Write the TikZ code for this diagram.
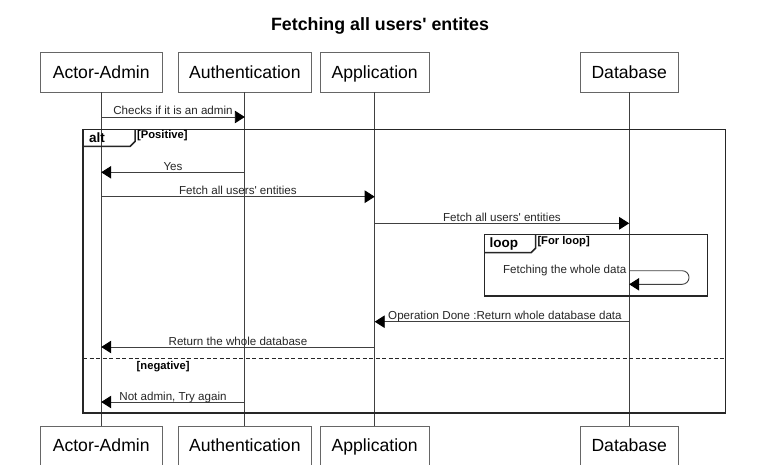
\documentclass[tikz,border=0pt]{standalone}
\usepackage{fontspec}
\setmainfont{Liberation Sans}
\usetikzlibrary{arrows.meta}

\newcommand{\apos}{\textquotesingle}

\tikzset{
  part/.style={draw=black!60, fill=white, font=\fontsize{17.6}{19}\selectfont, inner sep=0pt, text height=12.8pt, text depth=0pt},
  lifeline/.style={draw=black!75, line width=0.9pt},
  msg/.style={draw=black!75, line width=0.9pt, -{Triangle[length=10pt,width=12.5pt,color=black]}},
  msgtext/.style={midway, anchor=base, yshift=2pt, inner sep=0pt, font=\fontsize{11.6}{13}\selectfont, text=black!85},
  frame/.style={draw=black!85, line width=1.5pt},
  frametag/.style={anchor=west, inner sep=0pt, font=\bfseries\fontsize{13.5}{15}\selectfont},
  guard/.style={anchor=west, inner sep=0pt, font=\bfseries\fontsize{11.2}{12}\selectfont}
}

\begin{document}
\begin{tikzpicture}[x=1pt,y=-1pt]
\useasboundingbox (0,0) rectangle (759,465);

% title
\node[font=\bfseries\fontsize{17.8}{19}\selectfont] (title) at (380,26) {Fetching all users\apos{} entites};

% participants
\node[part, minimum width=121.5pt, minimum height=39.3pt] (adm) at (101.2,72.3) {Actor-Admin};
\node[part, minimum width=133.7pt, minimum height=39.3pt] (auth) at (244.8,72.3) {Authentication};
\node[part, minimum width=109.3pt, minimum height=39.3pt] (app) at (374.7,72.3) {Application};
\node[part, minimum width=97.7pt, minimum height=39.3pt] (db) at (629.2,72.3) {Database};

\node[part, minimum width=121.5pt, minimum height=39pt] (admB) at (101.2,445.5) {Actor-Admin};
\node[part, minimum width=133.7pt, minimum height=39pt] (authB) at (244.8,445.5) {Authentication};
\node[part, minimum width=109.3pt, minimum height=39pt] (appB) at (374.7,445.5) {Application};
\node[part, minimum width=97.7pt, minimum height=39pt] (dbB) at (629.2,445.5) {Database};

% lifelines
\draw[lifeline] (adm.south) -- (admB.north);
\draw[lifeline] (auth.south) -- (authB.north);
\draw[lifeline] (app.south) -- (appB.north);
\draw[lifeline] (db.south) -- (dbB.north);

% alt frame
\draw[frame] (83,129.3) rectangle (725.3,413);
\draw[frame] (83,146.5) -- (130,146.5) -- (135,141.5) -- (135,129.3);
\node[frametag] (alt) at (89,138) {alt};
\node[guard] (pos) at (137,135.5) {[Positive]};
\draw[frame, line width=1.2pt, dash pattern=on 4pt off 2.5pt] (83,358.7) -- (725.3,358.7);
\node[guard] (neg) at (136.5,366.5) {[negative]};

% loop frame
\draw[frame] (484.3,234.3) rectangle (707.3,296);
\draw[frame] (484.3,252.7) -- (531,252.7) -- (535.7,248) -- (535.7,234.3);
\node[frametag] (loop) at (489.5,244) {loop};
\node[guard] (forl) at (537.3,241.5) {[For loop]};

% messages
\coordinate (m1a) at (101.2,117);
\coordinate (m1b) at (244.8,117);
\draw[msg] (m1a) -- (m1b) node[msgtext] {Checks if it is an admin};

\coordinate (m2a) at (244.8,172.3);
\coordinate (m2b) at (101.2,172.3);
\draw[msg] (m2a) -- (m2b) node[msgtext] {Yes};

\coordinate (m3a) at (101.2,196.7);
\coordinate (m3b) at (374.7,196.7);
\draw[msg] (m3a) -- (m3b) node[msgtext] {Fetch all users\apos{} entities};

\coordinate (m4a) at (374.7,223.3);
\coordinate (m4b) at (629.2,223.3);
\draw[msg] (m4a) -- (m4b) node[msgtext] {Fetch all users\apos{} entities};

% self message
\coordinate (m5a) at (629.2,270.7);
\coordinate (m5b) at (629.2,284.3);
\draw[msg, rounded corners=6.8pt] (m5a) -- (689,270.7) -- (689,284.3) -- (m5b);
\node[anchor=east, inner sep=0pt, font=\fontsize{11.6}{13}\selectfont, text=black!85] (m5t) at (626.5,270.5) {Fetching the whole data};

\coordinate (m6a) at (629.2,321.7);
\coordinate (m6b) at (374.7,321.7);
\draw[msg] (m6a) -- (m6b) node[msgtext, xshift=3pt] {Operation Done :Return whole database data};

\coordinate (m7a) at (374.7,347);
\coordinate (m7b) at (101.2,347);
\draw[msg] (m7a) -- (m7b) node[msgtext] {Return the whole database};

\coordinate (m8a) at (244.8,402);
\coordinate (m8b) at (101.2,402);
\draw[msg] (m8a) -- (m8b) node[msgtext] {Not admin, Try again};

\end{tikzpicture}
\end{document}
